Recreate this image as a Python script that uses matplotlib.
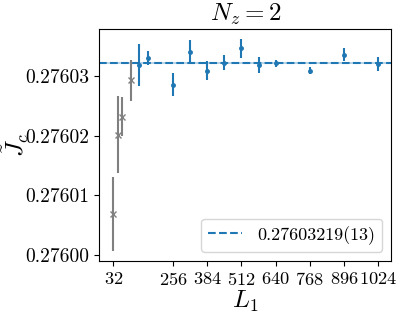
import numpy as np
import matplotlib
matplotlib.use("Agg")
import matplotlib.pyplot as plt

plt.rcParams["font.family"] = "serif"
plt.rcParams["font.serif"] = ["cmr10"]
plt.rcParams["mathtext.fontset"] = "cm"
plt.rcParams["axes.formatter.use_mathtext"] = True

# small lattices (excluded from fit)
L_small = [32, 48, 64, 96]
J_small = [0.2760069, 0.2760202, 0.2760232, 0.2760293]
err_small = [0.0000062, 0.0000065, 0.0000033, 0.0000035]

# lattices used in fit
L_fit = [128, 160, 256, 320, 384, 448, 512, 576, 640, 768, 896, 1024]
J_fit = [0.2760319, 0.2760331, 0.2760286, 0.2760341, 0.2760309, 0.2760323,
         0.2760347, 0.2760319, 0.2760322, 0.2760309, 0.2760336, 0.2760320]
err_fit = [0.0000035, 0.0000012, 0.0000019, 0.0000020, 0.0000016, 0.0000012,
           0.0000016, 0.0000013, 0.0000006, 0.0000006, 0.0000011, 0.0000012]

J_inf = 0.27603219
J_inf_err = 0.00000013

xticks = [32, 256, 384, 512, 640, 768, 896, 1024]
yticks = [0.27600, 0.27601, 0.27602, 0.27603]

fig, ax = plt.subplots(figsize=(4.02, 3.17), dpi=100)

ax.errorbar(L_small, J_small, yerr=err_small, fmt="x", color="gray", ms=5)
ax.errorbar(L_fit, J_fit, yerr=err_fit, fmt=".", color="tab:blue", ms=5)
ax.axhline(J_inf, ls="--", color="tab:blue", label="0.27603219(13)")
ax.axhspan(J_inf - J_inf_err, J_inf + J_inf_err, color="tab:blue", alpha=0.3, lw=0)

ax.set_xticks(xticks)
ax.set_yticks(yticks)
ax.set_yticklabels(["0.27600", "0.27601", "0.27602", "0.27603"])
ax.tick_params(axis="y", labelsize=14)
ax.tick_params(axis="x", labelsize=13.2)
ax.set_xlim(-21, 1073)
ax.set_ylim(0.275999, 0.2760379)

ax.set_title("$N_z = 2$", fontsize=18)
ax.set_xlabel("$L_1$", fontsize=18, labelpad=1)
ax.set_ylabel(r"$\tilde{J}_c$", fontsize=18)
ax.yaxis.set_label_coords(-0.235, 0.5)
ax.legend(loc="lower right", fontsize=13, handlelength=1.9)

fig.subplots_adjust(left=0.247, right=0.973, top=0.908, bottom=0.177)
fig.savefig("out.png")
